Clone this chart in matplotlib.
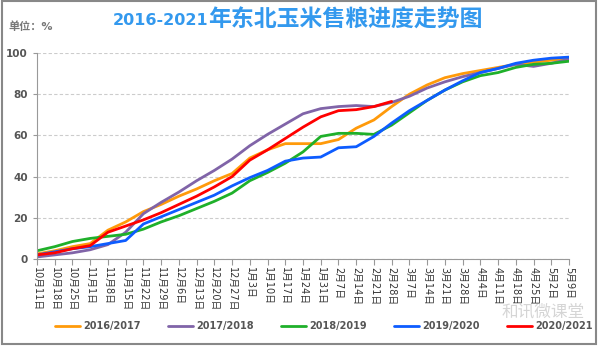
from matplotlib import pyplot as plt
from matplotlib.patches import Rectangle

plt.rcParams['font.family'] = ['DejaVu Sans', 'Noto Sans CJK SC']

dates = ["10月11日", "10月18日", "10月25日", "11月1日", "11月8日", "11月15日", "11月22日",
         "11月29日", "12月6日", "12月13日", "12月20日", "12月27日", "1月3日", "1月10日",
         "1月17日", "1月24日", "1月31日", "2月7日", "2月14日", "2月21日", "2月28日",
         "3月7日", "3月14日", "3月21日", "3月28日", "4月4日", "4月11日", "4月18日",
         "4月25日", "5月2日", "5月9日"]

s2016 = [2.5, 4, 6, 7.5, 14, 18, 23, 26.5, 30.5, 34, 38, 41.5, 49, 53, 56, 56,
         56, 58, 63.5, 67.5, 74, 80, 84.5, 88, 90, 91.5, 93, 94.5, 95.5, 96.5, 97.5]
s2017 = [1, 2, 3, 4.5, 7, 13, 22, 27.5, 32.5, 38, 43, 48.5, 55, 60.5, 65.5, 70.5,
         73, 74, 74.5, 74, 76, 79, 83, 86, 88.5, 90.5, 92.5, 94.5, 93.5, 95, 97]
s2018 = [4, 6, 8.5, 10, 11, 12, 14.5, 18, 21, 24.5, 28, 32, 38, 42, 46.5, 52,
         59.5, 61, 61, 60.5, 65, 71, 77, 82, 86, 89, 90.5, 93, 94.5, 95, 96]
s2019 = [2, 3.5, 5, 6, 7.5, 9, 17, 20.5, 24, 27.5, 31, 35.5, 39.5, 43, 47.5, 49,
         49.5, 54, 54.5, 59.5, 66, 72, 77, 82, 86.5, 90.5, 92.5, 95, 96.5, 97.5, 98]
s2020 = [2, 3, 5, 6.5, 13, 16, 19, 22.5, 26.5, 30.5, 35, 40, 48, 53, 58.5, 64,
         69, 72, 72.5, 74, 76.5]

series = [("2016/2017", s2016, "#ff9a0a"),
          ("2017/2018", s2017, "#8064a8"),
          ("2018/2019", s2018, "#1fb02a"),
          ("2019/2020", s2019, "#0d5cff"),
          ("2020/2021", s2020, "#ff0000")]

fig = plt.figure(figsize=(6, 3.46), dpi=100)
ax = fig.add_axes([0.0617, 0.2514, 0.8866, 0.5954])

for name, vals, color in series:
    ax.plot(range(len(vals)), vals, color=color, lw=2, label=name,
            solid_capstyle='round', solid_joinstyle='round')

ax.set_xlim(0, len(dates) - 1)
ax.set_ylim(0, 100)
ax.set_yticks([0, 20, 40, 60, 80, 100])
ax.set_xticks(range(len(dates)))
ax.set_xticklabels(dates, rotation=270, fontsize=7, color='#333333')
ax.tick_params(axis='y', labelsize=7.5, labelcolor='#555555', length=3, color='#999999')
ax.tick_params(axis='x', length=4, color='#999999', pad=2)
for lbl in ax.get_yticklabels():
    lbl.set_fontweight('bold')
for lbl in ax.get_xticklabels():
    lbl.set_verticalalignment('top')

ax.grid(axis='y', color='#cccccc', ls=(0, (3, 2)), lw=0.8)
for side in ['top', 'right']:
    ax.spines[side].set_visible(False)
for side in ['left', 'bottom']:
    ax.spines[side].set_color('#999999')

leg = fig.legend(loc='center', bbox_to_anchor=(0.54, 0.057), ncol=5, frameon=False,
                 handlelength=2.6, columnspacing=2.8, handletextpad=0.3,
                 prop={'size': 7, 'weight': 'bold'})
for t in leg.get_texts():
    t.set_color('#555555')

fig.text(0.347, 0.942, "2016-2021", ha='right', va='center', fontsize=11.5,
         fontweight='bold', color='#3399ee')
fig.text(0.347, 0.942, "年东北玉米售粮进度走势图", ha='left', va='center', fontsize=16.5,
         fontweight='bold', color='#3399ee', family='Noto Sans CJK SC')
fig.text(0.014, 0.922, "单位：%", ha='left', va='center', fontsize=8,
         fontweight='bold', color='#777777')

# faint overlay text in the lower right corner
fig.text(0.905, 0.098, "和讯微课堂", ha='center', va='center', fontsize=12,
         color='#888888', alpha=0.35, family='Noto Sans CJK SC')

fig.patches.append(Rectangle((0.004, 0.006), 0.99, 0.99, transform=fig.transFigure,
                             fill=False, edgecolor='#888888', lw=1.5))

plt.savefig("out.png", dpi=100)
